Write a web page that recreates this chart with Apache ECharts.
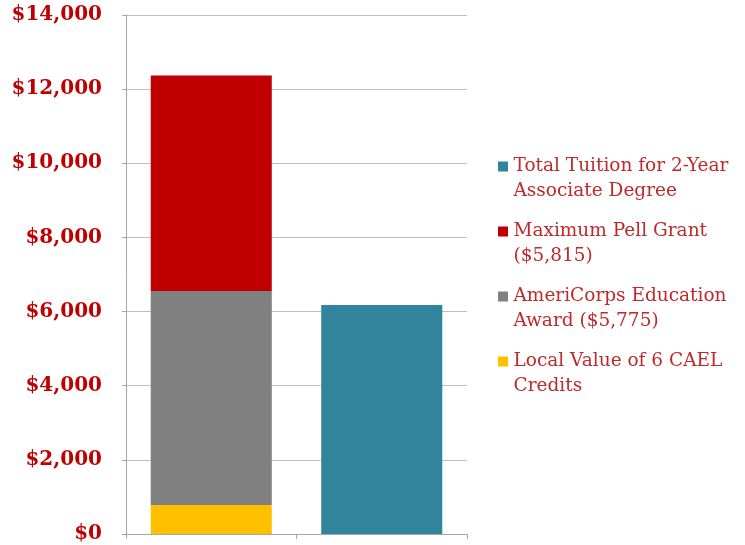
<!DOCTYPE html>
<html>
<head>
<meta charset="utf-8">
<script src="https://cdn.jsdelivr.net/npm/echarts@6/dist/echarts.min.js"></script>
<style>
  html, body { margin: 0; padding: 0; background: #fff; }
  #chart { width: 745px; height: 545px; }
</style>
</head>
<body>
<div id="chart"></div>
<script>
const categories = ['Benefits', 'Tuition'];
const legendNames = [
  'Total Tuition for 2-Year\nAssociate Degree',
  'Maximum Pell Grant\n($5,815)',
  'AmeriCorps Education\nAward ($5,775)',
  'Local Value of 6 CAEL\nCredits'
];
const caelCredits = [780, null];
const americorpsAward = [5775, null];
const pellGrant = [5815, null];
const totalTuition = [null, 6180];
const yTicks = [0, 2000, 4000, 6000, 8000, 10000, 12000, 14000];

const chart = echarts.init(document.getElementById('chart'));

// square on top plus a hair-thin sliver at the bottom, so the swatch sits on the first text line
const swatch = 'path://M0,0L10,0L10,10L0,10Z M0,34.9L0.01,34.9L0.01,35L0,35Z';

// bars share one stack so the tuition bar keeps the full slot width
const makeBar = (name, data, color) => ({
  name: name,
  type: 'bar',
  stack: 'total',
  barWidth: '71%',
  data: data,
  itemStyle: { color: color },
  emphasis: { disabled: true }
});

const option = {
  animation: false,
  backgroundColor: '#ffffff',
  grid: { left: 126, right: 278, top: 15, bottom: 11 },
  legend: {
    orient: 'vertical',
    left: 493,
    top: 149,
    icon: swatch,
    itemWidth: 11,
    itemHeight: 35,
    itemGap: 15,
    data: legendNames,
    textStyle: {
      fontFamily: 'DejaVu Serif',
      fontSize: 18.5,
      color: '#be2a2a',
      lineHeight: 25
    }
  },
  xAxis: {
    type: 'category',
    data: categories,
    axisLine: { lineStyle: { color: '#a6a6a6' } },
    axisTick: { show: true, length: 5, lineStyle: { color: '#a6a6a6' } },
    axisLabel: { show: false }
  },
  yAxis: {
    type: 'value',
    min: yTicks[0],
    max: yTicks[yTicks.length - 1],
    interval: 2000,
    axisLine: { show: true, lineStyle: { color: '#a6a6a6' } },
    axisTick: { show: true, length: 4, lineStyle: { color: '#a6a6a6' } },
    splitLine: { lineStyle: { color: '#bfbfbf' } },
    axisLabel: {
      margin: 24,
      padding: [5, 0, 0, 0],
      fontFamily: 'DejaVu Serif',
      fontWeight: 'bold',
      fontSize: 20,
      color: '#c00000',
      formatter: v => '$' + v.toLocaleString('en-US')
    }
  },
  series: [
    makeBar(legendNames[3], caelCredits, '#ffc000'),
    makeBar(legendNames[2], americorpsAward, '#808080'),
    makeBar(legendNames[1], pellGrant, '#c00000'),
    makeBar(legendNames[0], totalTuition, '#31849b')
  ]
};

chart.setOption(option);
</script>
</body>
</html>
